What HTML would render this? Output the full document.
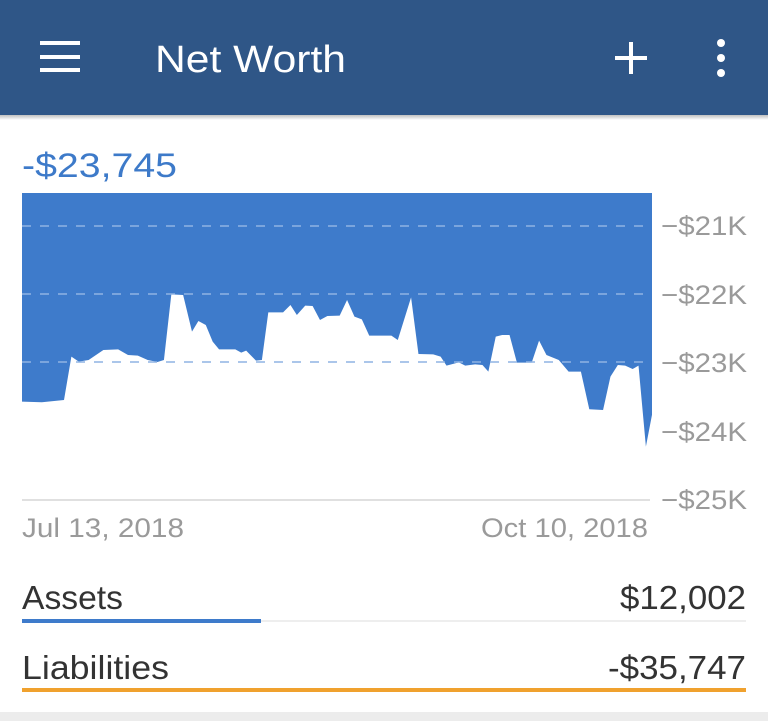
<!DOCTYPE html>
<html><head><meta charset="utf-8"><style>
html,body{margin:0;padding:0;background:#fff;width:768px;height:721px;overflow:hidden}
svg{display:block;font-family:"Liberation Sans",sans-serif}
</style></head><body>
<svg width="768" height="721" viewBox="0 0 768 721">
<defs><linearGradient id="sh" x1="0" y1="0" x2="0" y2="1"><stop offset="0" stop-color="#000" stop-opacity="0.25"/><stop offset="1" stop-color="#000" stop-opacity="0"/></linearGradient></defs>
<rect x="0" y="0" width="768" height="115" fill="#2f5687"/>
<rect x="0" y="115" width="768" height="5" fill="url(#sh)"/>
<rect x="40" y="41" width="40" height="4" fill="#fff"/>
<rect x="40" y="55" width="40" height="4" fill="#fff"/>
<rect x="40" y="68" width="40" height="4" fill="#fff"/>
<text x="155" y="72" font-size="38" fill="#fff" textLength="191" lengthAdjust="spacingAndGlyphs">Net Worth</text>
<rect x="615" y="56" width="32" height="4" fill="#fff"/>
<rect x="629" y="42" width="4" height="32" fill="#fff"/>
<circle cx="721" cy="43" r="4" fill="#fff"/><circle cx="721" cy="58" r="4" fill="#fff"/><circle cx="721" cy="73" r="4" fill="#fff"/>
<text x="22" y="177" font-size="34" fill="#3d7ac9" textLength="155" lengthAdjust="spacingAndGlyphs">-$23,745</text>
<rect x="22" y="193" width="630" height="307" fill="#3e7bcb"/>
<g transform="translate(0,180) scale(0.4923,0.3333)">
<polygon fill="#fff" points="44,970 44,665 85,667 130,660 145,530 160,545 180,540 210,510 240,508 260,525 280,527 300,540 320,546 333,540 348,343 372,345 390,455 403,423 418,435 432,485 445,508 478,508 490,518 500,512 520,542 532,540 545,397 575,397 590,375 603,405 620,377 635,378 650,420 665,408 690,407 705,360 720,410 735,418 750,467 795,467 808,480 835,352 850,522 880,523 895,530 907,557 932,547 945,557 965,553 980,555 992,575 1007,470 1020,465 1035,465 1050,548 1080,548 1095,482 1110,525 1135,540 1155,575 1180,575 1197,688 1225,690 1240,590 1255,555 1270,557 1285,567 1297,557 1312,800 1325,700 1325,970"/>
</g>
<g stroke="#8fb3e3" stroke-width="1.5" stroke-dasharray="9,9">
<line x1="22" y1="226" x2="650" y2="226"/><line x1="22" y1="294" x2="650" y2="294"/><line x1="22" y1="362" x2="650" y2="362"/>
</g>
<line x1="22" y1="500" x2="650" y2="500" stroke="#e0e0e0" stroke-width="2"/>
<g font-size="27" fill="#9a9a9a">
<text x="661" y="235" textLength="86" lengthAdjust="spacingAndGlyphs">−$21K</text>
<text x="661" y="304" textLength="86" lengthAdjust="spacingAndGlyphs">−$22K</text>
<text x="661" y="372" textLength="86" lengthAdjust="spacingAndGlyphs">−$23K</text>
<text x="661" y="441" textLength="86" lengthAdjust="spacingAndGlyphs">−$24K</text>
<text x="661" y="509" textLength="86" lengthAdjust="spacingAndGlyphs">−$25K</text>
<text x="22" y="537" textLength="162" lengthAdjust="spacingAndGlyphs">Jul 13, 2018</text>
<text x="481" y="537" textLength="167" lengthAdjust="spacingAndGlyphs">Oct 10, 2018</text>
</g>
<g font-size="33" fill="#333">
<text x="22" y="609" textLength="101" lengthAdjust="spacingAndGlyphs">Assets</text>
<text x="746" y="609" text-anchor="end" textLength="126" lengthAdjust="spacingAndGlyphs">$12,002</text>
<text x="22" y="679" textLength="147" lengthAdjust="spacingAndGlyphs">Liabilities</text>
<text x="746" y="679" text-anchor="end" textLength="138" lengthAdjust="spacingAndGlyphs">-$35,747</text>
</g>
<rect x="22" y="620" width="724" height="2" fill="#eeeeee"/>
<rect x="22" y="619" width="239" height="4" fill="#3e7bcb"/>
<rect x="22" y="688" width="724" height="4" fill="#f0a12e"/>
<rect x="0" y="712" width="768" height="9" fill="#ececec"/>
</svg>
</body></html>
